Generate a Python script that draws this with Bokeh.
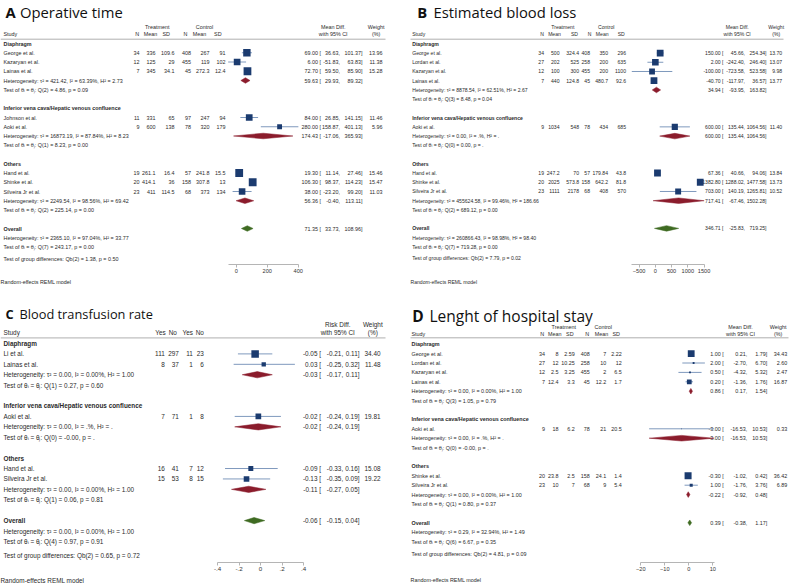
from bokeh.plotting import figure
from bokeh.models import Range1d, FixedTicker, CustomJSTickFormatter, Title
from bokeh.layouts import gridplot
from bokeh.core.properties import value
from bokeh.embed import file_html
from bokeh.resources import INLINE

GROUPS = ["Diaphragm", "Inferior vena cava/Hepatic venous confluence", "Others"]

# ---------------- A: Operative time ----------------
A_study = ["George et al.", "Kazaryan et al.", "Lainas et al.", "Johnson et al.", "Aoki et al.",
           "Hand et al.", "Shinke et al.", "Silveira Jr et al."]
A_group = [0, 0, 0, 1, 1, 2, 2, 2]
A_t_n = [34, 12, 7, 11, 9, 19, 20, 23]
A_t_mean = [336, 125, 345, 331, 600, 261.1, 414.1, 411]
A_t_sd = [109.6, 29, 34.1, 65, 138, 16.4, 36, 114.5]
A_c_n = [408, 455, 45, 97, 78, 57, 158, 68]
A_c_mean = [267, 119, 272.3, 247, 320, 241.8, 307.8, 373]
A_c_sd = [91, 102, 12.4, 94, 179, 15.5, 13, 134]
A_est = [69.00, 6.00, 72.70, 84.00, 280.00, 19.30, 106.30, 38.00]
A_lo = [36.63, -51.83, 59.50, 26.85, 158.87, 11.14, 98.37, -23.20]
A_hi = [101.37, 63.83, 85.90, 141.15, 401.13, 27.46, 114.23, 99.20]
A_w = [13.96, 11.38, 15.28, 11.46, 5.96, 15.46, 15.47, 11.03]
# subgroups (Diaphragm, IVC, Others) + Overall
A_sub_est = [59.63, 174.43, 56.36, 71.35]
A_sub_lo = [29.93, -17.06, -0.40, 33.73]
A_sub_hi = [89.32, 365.93, 113.11, 108.96]
A_tau2 = [421.42, 16873.19, 2249.54, 2365.10]
A_i2 = [63.39, 87.84, 98.56, 97.04]
A_h2 = [2.73, 8.23, 69.42, 33.77]
A_q = [4.86, 8.23, 225.14, 243.17]
A_df = [2, 1, 2, 7]
A_p = [0.09, 0.00, 0.00, 0.00]
A_qb = [1.38, 2, 0.50]
A_ticks = [0, 200, 400]

# ---------------- B: Estimated blood loss ----------------
B_study = ["George et al.", "Lordan et al.", "Kazaryan et al.", "Lainas et al.", "Aoki et al.",
           "Hand et al.", "Shinke et al.", "Silveira Jr et al."]
B_group = [0, 0, 0, 0, 1, 2, 2, 2]
B_t_n = [34, 27, 12, 7, 9, 19, 20, 23]
B_t_mean = [500, 202, 100, 440, 1034, 247.2, 2025, 1111]
B_t_sd = [324.4, 525, 300, 124.8, 548, 70, 573.8, 2178]
B_c_n = [408, 258, 455, 45, 78, 57, 158, 68]
B_c_mean = [350, 200, 200, 480.7, 434, 179.84, 642.2, 408]
B_c_sd = [296, 635, 1100, 92.6, 685, 43.8, 81.8, 570]
B_est = [150.00, 2.00, -100.00, -40.70, 600.00, 67.36, 1382.80, 703.00]
B_lo = [45.66, -242.40, -723.58, -117.97, 135.44, 40.66, 1288.02, 140.19]
B_hi = [254.34, 246.40, 523.58, 36.57, 1064.56, 94.06, 1477.58, 1265.81]
B_w = [13.70, 13.07, 9.98, 13.77, 11.40, 13.84, 13.73, 10.52]
B_sub_est = [34.94, 600.00, 717.41, 346.71]
B_sub_lo = [-93.95, 135.44, -67.46, -25.83]
B_sub_hi = [163.82, 1064.56, 1502.28, 719.25]
B_tau2 = [8878.54, 0.00, 455624.58, 260866.43]
B_i2 = [62.51, None, 99.46, 98.98]
B_h2 = [2.67, None, 186.66, 98.40]
B_q = [8.48, 0.00, 689.12, 719.28]
B_df = [3, 0, 2, 7]
B_p = [0.04, None, 0.00, 0.00]
B_qb = [7.79, 2, 0.02]
B_ticks = [-500, 0, 500, 1000, 1500]

# ---------------- C: Blood transfusion rate ----------------
C_study = ["Li et al.", "Lainas et al.", "Aoki et al.", "Hand et al.", "Silveira Jr et al."]
C_group = [0, 0, 1, 2, 2]
C_t_yes = [111, 8, 7, 16, 15]
C_t_no = [297, 37, 71, 41, 53]
C_c_yes = [11, 1, 1, 7, 8]
C_c_no = [23, 6, 8, 12, 15]
C_est = [-0.05, 0.03, -0.02, -0.09, -0.13]
C_lo = [-0.21, -0.25, -0.24, -0.33, -0.35]
C_hi = [0.11, 0.32, 0.19, 0.16, 0.09]
C_w = [34.40, 11.48, 19.81, 15.08, 19.22]
C_sub_est = [-0.03, -0.02, -0.11, -0.06]
C_sub_lo = [-0.17, -0.24, -0.27, -0.15]
C_sub_hi = [0.11, 0.19, 0.05, 0.04]
C_tau2 = [0.00, 0.00, 0.00, 0.00]
C_i2 = [0.00, None, 0.00, 0.00]
C_h2 = [1.00, None, 1.00, 1.00]
C_q = [0.27, -0.0, 0.06, 0.97]
C_df = [1, 0, 1, 4]
C_p = [0.60, None, 0.81, 0.91]
C_qb = [0.65, 2, 0.72]
C_ticks = [-0.4, -0.2, 0, 0.2, 0.4]

# ---------------- D: Lenght of hospital stay ----------------
D_study = ["George et al.", "Lordan et al.", "Kazaryan et al.", "Lainas et al.", "Aoki et al.",
           "Shinke et al.", "Silveira Jr et al."]
D_group = [0, 0, 0, 0, 1, 2, 2]
D_t_n = [34, 27, 12, 7, 9, 20, 23]
D_t_mean = [8, 12, 2.5, 12.4, 18, 23.8, 10]
D_t_sd = [2.59, 10.25, 3.25, 3.3, 6.2, 2.5, 7]
D_c_n = [408, 258, 455, 45, 78, 158, 68]
D_c_mean = [7, 10, 2, 12.2, 21, 24.1, 9]
D_c_sd = [2.22, 12, 6.5, 1.7, 20.5, 1.4, 5.4]
D_est = [1.00, 2.00, 0.50, 0.20, -3.00, -0.30, 1.00]
D_lo = [0.21, -2.70, -4.32, -1.36, -16.53, -1.02, -1.76]
D_hi = [1.79, 6.70, 5.32, 1.76, 10.53, 0.42, 3.76]
D_w = [34.43, 2.60, 2.47, 16.87, 0.33, 36.42, 6.89]
D_sub_est = [0.86, -3.00, -0.22, 0.39]
D_sub_lo = [0.17, -16.53, -0.92, -0.38]
D_sub_hi = [1.54, 10.53, 0.48, 1.17]
D_tau2 = [0.00, 0.00, 0.00, 0.29]
D_i2 = [0.00, None, 0.00, 32.94]
D_h2 = [1.00, None, 1.00, 1.49]
D_q = [1.05, -0.0, 0.80, 6.67]
D_df = [3, 0, 1, 6]
D_p = [0.79, None, 0.37, 0.35]
D_qb = [4.81, 2, 0.09]
D_ticks = [-20, -10, 0, 10]

# ---------------- styles ----------------
SANS = "Liberation Sans"
TITLE_FONT = "Open Sans"
TXT = "#2a2a2a"
NAVY = "#1b3b6f"
CI_COL = "#7f99bd"
RED = "#8b1c2c"
GREEN = "#3f6b22"
RULE = "#9a9a9a"

MD_HDR = ["N", "Mean", "SD", "N", "Mean", "SD"]
RD_HDR = ["Yes", "No", "Yes", "No"]

PANELS = [
    dict(letter="A", title="Operative time", study=A_study, group=A_group,
         cols=[A_t_n, A_t_mean, A_t_sd, A_c_n, A_c_mean, A_c_sd], col_hdr=MD_HDR,
         est=A_est, lo=A_lo, hi=A_hi, w=A_w, sest=A_sub_est, slo=A_sub_lo, shi=A_sub_hi,
         tau2=A_tau2, i2=A_i2, h2=A_h2, q=A_q, df=A_df, p=A_p, qb=A_qb, ticks=A_ticks,
         effect="Mean Diff.", top_hdr=["Treatment", "Control"]),
    dict(letter="B", title="Estimated blood loss", study=B_study, group=B_group,
         cols=[B_t_n, B_t_mean, B_t_sd, B_c_n, B_c_mean, B_c_sd], col_hdr=MD_HDR,
         est=B_est, lo=B_lo, hi=B_hi, w=B_w, sest=B_sub_est, slo=B_sub_lo, shi=B_sub_hi,
         tau2=B_tau2, i2=B_i2, h2=B_h2, q=B_q, df=B_df, p=B_p, qb=B_qb, ticks=B_ticks,
         effect="Mean Diff.", top_hdr=["Treatment", "Control"]),
    dict(letter="C", title="Blood transfusion rate", study=C_study, group=C_group,
         cols=[C_t_yes, C_t_no, C_c_yes, C_c_no], col_hdr=RD_HDR,
         est=C_est, lo=C_lo, hi=C_hi, w=C_w, sest=C_sub_est, slo=C_sub_lo, shi=C_sub_hi,
         tau2=C_tau2, i2=C_i2, h2=C_h2, q=C_q, df=C_df, p=C_p, qb=C_qb, ticks=C_ticks,
         effect="Risk Diff.", top_hdr=[]),
    dict(letter="D", title="Lenght of hospital stay", study=D_study, group=D_group,
         cols=[D_t_n, D_t_mean, D_t_sd, D_c_n, D_c_mean, D_c_sd], col_hdr=MD_HDR,
         est=D_est, lo=D_lo, hi=D_hi, w=D_w, sest=D_sub_est, slo=D_sub_lo, shi=D_sub_hi,
         tau2=D_tau2, i2=D_i2, h2=D_h2, q=D_q, df=D_df, p=D_p, qb=D_qb, ticks=D_ticks,
         effect="Mean Diff.", top_hdr=["Treatment", "Control"]),
]

# layout in pixels, local to each panel (figure = W x fh, frame spans 0..ybot)
LAYOUTS = [
    dict(W=400, fh=300, ybot=264, y0=43.0, dy=9.25, zero=235.7, ppu=31 / 200, fs=5.4,
         tfs=14.8, smax=7.8, tx=(5, 19.5), ty=11, sx=3, y_top=26, y_hdr=33.7, rule=(0, 385, 38.7),
         top_x=[156.7, 204], hdr_x=[136.7, 150, 165.7, 185, 199, 217.3],
         col_r=[139, 155, 174, 190.5, 209, 225], eff_x=332.7, w_x=375.7,
         est_r=(320.5, 339.5, 362), w_r=382, reml=0, grp_gap=1.26, tick_fs=5.6),
    dict(W=396, fh=300, ybot=264, y0=43.3, dy=9.23, zero=254.8, ppu=65 / 2000, fs=5.1,
         tfs=14.8, smax=6.8, tx=(16.7, 33), ty=11, sx=11.7, y_top=26, y_hdr=33.7, rule=(10, 383, 38.7),
         top_x=[162.3, 205.7], hdr_x=[141.7, 154, 174, 189, 201.7, 220.7],
         col_r=[143.5, 159, 178.5, 189.5, 207.5, 225.5], eff_x=336.7, w_x=375.7,
         est_r=(323, 344.5, 366), w_r=381.7, reml=10, grp_gap=1.26, tick_fs=5.6),
    dict(W=400, fh=284, ybot=264, y0=43.3, dy=10.5, zero=260, ppu=107.5, fs=6.4,
         tfs=12.8, smax=7.5, tx=(5, 19), ty=14, sx=3, y_top=24, y_hdr=32.3, rule=(0, 385, 37.7),
         top_x=[], hdr_x=[160, 172.3, 187.3, 199.3],
         col_r=[164.3, 178.3, 192.3, 203.3], eff_x=337.3, w_x=372.3,
         est_r=(320.5, 342.7, 359), w_r=380, reml=0, grp_gap=1.33, tick_fs=6.2),
    dict(W=396, fh=284, ybot=262, y0=43.7, dy=9.4, zero=288.3, ppu=2.4, fs=5.4,
         tfs=15.5, smax=7.0, tx=(11.7, 29), ty=15.5, sx=11, y_top=26, y_hdr=33.7, rule=(10, 388, 37.3),
         top_x=[163.3, 202.7], hdr_x=[141.7, 154.3, 169.3, 186.7, 201, 215.7],
         col_r=[144.5, 158, 174.3, 189.3, 205.7, 221.3], eff_x=340, w_x=377.7,
         est_r=(323.3, 346.7, 366.7), w_r=386.7, reml=10, grp_gap=1.3, tick_fs=5.6),
]


def f2(v):
    return "." if v is None else f"{v:.2f}"


def make_panel(P, L):
    W = L["W"]
    ry = lambda yref: (yref - L["y0"]) / L["dy"]
    x_start = (0 - L["zero"]) / L["ppu"]
    x_end = (W - L["zero"]) / L["ppu"]
    p = figure(width=W, height=L["fh"], x_range=Range1d(x_start, x_end),
               y_range=Range1d(ry(L["ybot"]), ry(0)), output_backend="svg",
               toolbar_location=None, y_axis_location=None, x_axis_location="below",
               min_border=0, min_border_bottom=int(L["fh"] - L["ybot"]),
               outline_line_color=None, background_fill_color="white",
               border_fill_color="white")
    p.extra_x_ranges = {"px": Range1d(0, W)}
    p.xgrid.visible = False
    p.ygrid.visible = False

    fs = f"{L['fs']}px"

    def txt(xs, ys, texts, align="left", bold=False, size=fs, font=SANS, color=TXT):
        p.text(x=xs, y=ys, text=texts, x_range_name="px", text_font=value(font),
               text_font_size=size, text_align=align, text_baseline="middle",
               text_color=color, text_font_style="bold" if bold else "normal")

    # ---- row structure
    g = P["group"]
    n = len(P["study"])
    r = 0
    label_r, study_r, het_r, test_r = [], [0] * n, [], []
    for gi in range(3):
        label_r.append(r)
        r += 1
        for i in range(n):
            if g[i] == gi:
                study_r[i] = r
                r += 1
        het_r.append(r)
        r += 1
        test_r.append(r)
        r += 2
    ov_r = r
    label_r.append(ov_r)
    het_r.append(ov_r + 1)
    test_r.append(ov_r + 2)
    grp_r = ov_r + 2 + L["grp_gap"]
    diamond_r = het_r[:3] + [ov_r]

    # ---- title
    tsize = f"{L['tfs']}px"
    txt([L["tx"][0]], [ry(L["ty"])], [P["letter"]], bold=True, size=tsize, font=TITLE_FONT, color="#111111")
    txt([L["tx"][1]], [ry(L["ty"])], [P["title"]], size=tsize, font=TITLE_FONT, color="#111111")

    # ---- headers
    if P["top_hdr"]:
        txt(L["top_x"], [ry(L["y_top"])] * 2, P["top_hdr"], align="center")
    txt([L["sx"]], [ry(L["y_hdr"])], ["Study"])
    txt(L["hdr_x"], [ry(L["y_hdr"])] * len(L["hdr_x"]), P["col_hdr"], align="center")
    txt([L["eff_x"], L["eff_x"]], [ry(L["y_top"]), ry(L["y_hdr"])], [P["effect"], "with 95% CI"], align="center")
    txt([L["w_x"], L["w_x"]], [ry(L["y_top"]), ry(L["y_hdr"])], ["Weight", "(%)"], align="center")
    x0r, x1r, yr = L["rule"]
    p.segment(x0=[x0r], y0=[ry(yr)], x1=[x1r], y1=[ry(yr)], x_range_name="px",
              line_color=RULE, line_width=0.8)

    # ---- labels
    txt([L["sx"]] * 4, label_r, GROUPS + ["Overall"], bold=True)
    txt([L["sx"]] * n, study_r, P["study"])
    for ci, col in enumerate(P["cols"]):
        txt([L["col_r"][ci]] * n, study_r, [f"{v:g}" for v in col], align="right")

    # effect columns
    e1, e2, e3 = L["est_r"]
    txt([e1] * n, study_r, [f"{v:.2f} [" for v in P["est"]], align="right")
    txt([e2] * n, study_r, [f"{v:.2f}," for v in P["lo"]], align="right")
    txt([e3] * n, study_r, [f"{v:.2f}]" for v in P["hi"]], align="right")
    txt([L["w_r"]] * n, study_r, [f"{v:.2f}" for v in P["w"]], align="right")
    txt([e1] * 4, diamond_r, [f"{v:.2f} [" for v in P["sest"]], align="right")
    txt([e2] * 4, diamond_r, [f"{v:.2f}," for v in P["slo"]], align="right")
    txt([e3] * 4, diamond_r, [f"{v:.2f}]" for v in P["shi"]], align="right")

    # heterogeneity / tests
    het = [f"Heterogeneity: \u03c4\u00b2 = {t:.2f}, I\u00b2 = {f2(i)}%, H\u00b2 = {f2(h)}"
           for t, i, h in zip(P["tau2"], P["i2"], P["h2"])]
    tst = [f"Test of \u03b8\u1d62 = \u03b8\u2c7c: Q({d}) = {q:.2f}, p = {f2(pp)}"
           for q, d, pp in zip(P["q"], P["df"], P["p"])]
    txt([L["sx"]] * 4, het_r, het)
    txt([L["sx"]] * 4, test_r, tst)
    qb, dfb, pb = P["qb"]
    txt([L["sx"]], [grp_r], [f"Test of group differences: Qb({dfb}) = {qb:.2f}, p = {pb:.2f}"])

    # ---- forest marks
    p.segment(x0=P["lo"], y0=study_r, x1=P["hi"], y1=study_r, line_color=CI_COL, line_width=1)
    wmax = max(P["w"])
    sizes = [L["smax"] * (w / wmax) ** 0.5 for w in P["w"]]
    p.scatter(x=P["est"], y=study_r, marker="square", size=sizes, fill_color=NAVY, line_color=None)
    h = 0.3
    xs = [[lo, e, hi, e] for lo, e, hi in zip(P["slo"], P["sest"], P["shi"])]
    ys = [[rr, rr - h, rr, rr + h] for rr in diamond_r]
    p.patches(xs=xs[:3], ys=ys[:3], fill_color=RED, line_color=RED, line_width=0.5)
    p.patches(xs=xs[3:], ys=ys[3:], fill_color=GREEN, line_color=GREEN, line_width=0.5)

    # ---- axis
    ax = p.xaxis[0]
    ticks = P["ticks"]
    allv = P["lo"] + P["hi"] + P["slo"] + P["shi"] + ticks
    ax.ticker = FixedTicker(ticks=ticks)
    ax.bounds = (min(allv), max(allv))
    if P["letter"] == "C":
        ax.formatter = CustomJSTickFormatter(code="""
            if (Math.abs(tick) < 1e-9) { return "0"; }
            return tick.toFixed(1).replace("0.", ".");
        """)
    ax.major_tick_in = 0
    ax.major_tick_out = 3
    ax.minor_tick_line_color = None
    ax.axis_line_color = "#b5b5b5"
    ax.major_tick_line_color = "#b5b5b5"
    ax.major_label_text_font = SANS
    ax.major_label_text_font_size = f"{L['tick_fs']}px"
    ax.major_label_text_color = "#333333"
    ax.major_label_standoff = 1

    t = Title(text="Random-effects REML model", align="left", text_font=SANS,
              text_font_size=fs, text_font_style="normal", text_color=TXT,
              offset=L["reml"], standoff=2)
    p.add_layout(t, "below")
    return p


figs = [make_panel(P, L) for P, L in zip(PANELS, LAYOUTS)]
grid = gridplot([[figs[0], figs[1]], [figs[2], figs[3]]], toolbar_location=None)

open("out.html", "w").write(file_html(grid, INLINE))
